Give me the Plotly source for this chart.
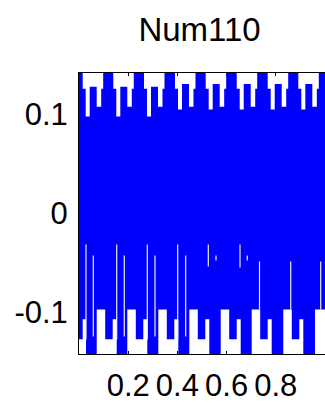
import plotly.graph_objects as go

# ---- data (data units) ----
title_text = "Num110"
x_tick_vals = [0.2, 0.4, 0.6, 0.8]
x_tick_text = ["0.2", "0.4", "0.6", "0.8"]
y_tick_vals = [-0.1, 0, 0.1]
y_tick_text = ["-0.1", "0", "0.1"]

# upper envelope of the dense signal (step-wise, holds until next x)
upper_x = [0.0,
           0.0150, 0.0272, 0.0435, 0.0719, 0.0902, 0.0983,
           0.1394, 0.1516, 0.1679, 0.1963, 0.2146, 0.2227,
           0.2642, 0.2764, 0.2927, 0.3211, 0.3394, 0.3475,
           0.3902, 0.4024, 0.4187, 0.4471, 0.4654, 0.4735,
           0.5150, 0.5272, 0.5435, 0.5719, 0.5902, 0.5983,
           0.6411, 0.6533, 0.6696, 0.6980, 0.7163, 0.7244,
           0.7671, 0.7793, 0.7956, 0.8240, 0.8423, 0.8504,
           0.8915, 0.9037, 0.9200, 0.9484, 0.9667, 0.9748,
           1.0]
upper_y = [0.2,
           0.126, 0.098, 0.128, 0.108, 0.126, 0.2,
           0.126, 0.098, 0.128, 0.108, 0.126, 0.2,
           0.126, 0.098, 0.128, 0.108, 0.126, 0.2,
           0.126, 0.105, 0.131, 0.108, 0.126, 0.2,
           0.126, 0.105, 0.131, 0.108, 0.126, 0.2,
           0.126, 0.105, 0.131, 0.108, 0.126, 0.2,
           0.126, 0.105, 0.131, 0.108, 0.126, 0.2,
           0.126, 0.105, 0.131, 0.108, 0.126, 0.2,
           0.2]

# lower envelope of the dense signal
lower_x = [0.0, 0.0150, 0.0285,
           0.0720, 0.1065, 0.1370, 0.1533,
           0.1963, 0.2309, 0.2614, 0.2776,
           0.3224, 0.3569, 0.3874, 0.4037,
           0.4484, 0.4829, 0.5134, 0.5297,
           0.5760, 0.6106, 0.6411, 0.6573,
           0.7020, 0.7366, 0.7671, 0.7833,
           0.8305, 0.8650, 0.8955, 0.9118,
           0.9593, 1.0]
lower_y = [-0.127, -0.107, -0.2,
           -0.097, -0.127, -0.107, -0.2,
           -0.097, -0.127, -0.107, -0.2,
           -0.097, -0.127, -0.107, -0.2,
           -0.097, -0.127, -0.107, -0.2,
           -0.097, -0.127, -0.107, -0.2,
           -0.097, -0.127, -0.107, -0.2,
           -0.097, -0.127, -0.107, -0.2,
           -0.097, -0.097]

# thin gaps inside the blue band
gap_x = [0.0285, 0.0581, 0.1533, 0.1841, 0.2776, 0.3089, 0.4012, 0.4337,
         0.5256, 0.5569, 0.6545, 0.6841, 0.7337, 0.8606, 0.9825]
gap_top = [-0.0313, -0.0424, -0.0313, -0.0424, -0.0313, -0.0424, -0.0313, -0.0424,
           -0.0313, -0.0424, -0.0313, -0.0424, -0.0485, -0.0485, -0.0485]
gap_bottom = [-0.1273, -0.1242, -0.1273, -0.1242, -0.1273, -0.1242, -0.1273, -0.1242,
              -0.0535, -0.0475, -0.0545, -0.0475, -0.0970, -0.0970, -0.0970]

BLUE = "#0000FF"
FONT = "Liberation Sans, Arial, sans-serif"
W, H = 325, 405

fig = go.Figure()
fig.add_trace(go.Scatter(x=upper_x, y=upper_y, mode="lines",
                         line=dict(width=0, shape="hv", color=BLUE),
                         hoverinfo="skip", showlegend=False))
fig.add_trace(go.Scatter(x=lower_x, y=lower_y, mode="lines",
                         line=dict(width=0, shape="hv", color=BLUE),
                         fill="tonexty", fillcolor=BLUE,
                         hoverinfo="skip", showlegend=False))

gx, gy = [], []
for x0, t, b in zip(gap_x, gap_top, gap_bottom):
    gx += [x0, x0, None]
    gy += [t, b, None]
fig.add_trace(go.Scatter(x=gx, y=gy, mode="lines",
                         line=dict(width=1.2, color="rgba(235,235,255,1)"),
                         hoverinfo="skip", showlegend=False))

fig.update_layout(
    width=W, height=H,
    margin=dict(l=79, r=0, t=73, b=51, autoexpand=False),
    paper_bgcolor="white", plot_bgcolor="white",
    title=dict(text=title_text, x=0.49, xref="paper", xanchor="center",
               y=1 - 29 / H, yref="container", yanchor="middle",
               font=dict(family=FONT, size=33, color="black")),
    font=dict(family=FONT, size=31, color="black"),
)
fig.update_xaxes(range=[0, 1.0], tickvals=x_tick_vals, ticktext=x_tick_text,
                 showgrid=False, zeroline=False, showline=True, linecolor="black",
                 linewidth=1, mirror="ticks", ticks="inside", ticklen=3,
                 tickcolor="black", layer="below traces", ticklabelstandoff=4,
                 automargin=False,
                 tickfont=dict(family=FONT, size=31, color="black"))
fig.update_yaxes(range=[-0.142, 0.142], tickvals=y_tick_vals, ticktext=y_tick_text,
                 showgrid=False, zeroline=False, showline=True, linecolor="black",
                 linewidth=1, mirror=False, ticks="inside", ticklen=3,
                 tickcolor="black", layer="below traces", ticklabelstandoff=4,
                 automargin=False,
                 tickfont=dict(family=FONT, size=31, color="black"))

fig.write_html("out.html",
               config={"displayModeBar": False, "responsive": False},
               post_script="document.body.style.margin='0px';"
                           "document.body.style.overflow='hidden';")
